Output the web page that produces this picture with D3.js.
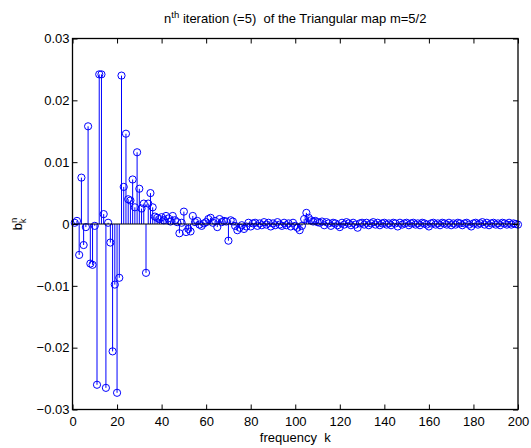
<!DOCTYPE html>
<html><head><meta charset="utf-8">
<script src="https://cdn.jsdelivr.net/npm/d3@7"></script>
<style>body{margin:0;background:#fff}svg{display:block}text{font-family:"Liberation Sans",Arial,sans-serif}</style>
</head><body><svg id="c" width="531" height="448"></svg>
<script>
// coefficient values b_k^n for k = 1..200
const values = [
 0.0002, 0.0005,-0.0050, 0.0075,-0.0034,-0.0005, 0.0158,-0.0064,-0.0066,-0.0003,
-0.0260, 0.0242, 0.0242, 0.0016,-0.0265, 0.0002,-0.0030,-0.0206,-0.0098,-0.0273,
-0.0087, 0.0240, 0.0060, 0.0146, 0.0040, 0.0038, 0.0072, 0.0027, 0.0116, 0.0057,
 0.0025, 0.0033,-0.0079, 0.0033, 0.0050, 0.0027, 0.0012, 0.0010, 0.0008, 0.0011,
 0.0006, 0.0013, 0.0009, 0.0004, 0.0013, 0.0006, 0.0003,-0.0015, 0.0002, 0.0020,
-0.0013,-0.0008,-0.0012, 0.0013, 0.0003, 0.0005,-0.0001,-0.0003, 0.0001, 0.0003,
 0.0008, 0.0010, 0.0002, 0.0005,-0.0005, 0.0008, 0.0003, 0.0005, 0.0004,-0.0027,
 0.0006, 0.0004,-0.0003,-0.0010,-0.0006,-0.0002,-0.0008,-0.0004, 0.0002,-0.0004,
 0.0001, 0.0002,-0.0003, 0.0001,-0.0002, 0.0003,-0.0001, 0.0002,-0.0004, 0.0001,
-0.0002, 0.0003,-0.0001,-0.0003, 0.0002,-0.0002, 0.0001,-0.0004, 0.0002,-0.0003,
-0.0006,-0.0010,-0.0003, 0.0008, 0.0018, 0.0010, 0.0006, 0.0004, 0.0005, 0.0003,
 0.0002, 0.0004,-0.0002, 0.0003, 0.0001,-0.0003, 0.0002, 0.0001,-0.0002,-0.0005,
 0.0002,-0.0001, 0.0003, 0.0001,-0.0002, 0.0002,-0.0001,-0.0006, 0.0001, 0.0002,
-0.0001, 0.0002,-0.0002, 0.0001, 0.0003,-0.0001, 0.0002,-0.0002, 0.0001, 0.0002,
-0.0001, 0.0001,-0.0002, 0.0002, 0.0001,-0.0004, 0.0002,-0.0001, 0.0001, 0.0002,
-0.0002, 0.0001, 0.0002,-0.0001, 0.0001,-0.0002, 0.0002, 0.0001,-0.0001,-0.0004,
 0.0001, 0.0002,-0.0001, 0.0001,-0.0002, 0.0002, 0.0001,-0.0001, 0.0002,-0.0002,
 0.0001,-0.0001, 0.0002, 0.0001,-0.0002, 0.0001, 0.0002,-0.0001,-0.0004, 0.0001,
 0.0002,-0.0001, 0.0001, 0.0003,-0.0001, 0.0002,-0.0002, 0.0001, 0.0002,-0.0001,
 0.0001,-0.0002, 0.0002, 0.0001,-0.0001, 0.0002,-0.0001, 0.0001, 0.0000,-0.0001
];
const xTicks = [0,20,40,60,80,100,120,140,160,180,200];
const yTicks = [-0.03,-0.02,-0.01,0,0.01,0.02,0.03];
const yTickLabels = ["\u22120.03","\u22120.02","\u22120.01","0","0.01","0.02","0.03"];

const svg = d3.select("#c");
const L=72.5, R=518, T=38.5, B=409.5;
const FS=13;
const x = d3.scaleLinear().domain([0,200]).range([L,R]);
const y = d3.scaleLinear().domain([-0.03,0.03]).range([B,T]);
const data = values.map((v,i)=>({k:i+1,v}));

const g = svg.append("g");
// stems
g.selectAll("line.stem").data(data).enter().append("line")
 .attr("x1",d=>x(d.k)).attr("x2",d=>x(d.k))
 .attr("y1",y(0)).attr("y2",d=>y(d.v))
 .attr("stroke","#0000ff").attr("stroke-width",1);
// markers
g.selectAll("circle").data(data).enter().append("circle")
 .attr("cx",d=>x(d.k)).attr("cy",d=>y(d.v)).attr("r",3.6)
 .attr("fill","none").attr("stroke","#0000ff").attr("stroke-width",1);
// baseline
g.append("line").attr("x1",L).attr("x2",R).attr("y1",y(0)).attr("y2",y(0))
 .attr("stroke","#000").attr("stroke-width",1);

// axes
const tl=5;
const fmtX = d3.format("d");
const xb = svg.append("g").attr("transform",`translate(0,${B})`)
 .call(d3.axisBottom(x).tickValues(xTicks).tickFormat(fmtX).tickSizeInner(-tl).tickSizeOuter(0).tickPadding(7));
const xt = svg.append("g").attr("transform",`translate(0,${T})`)
 .call(d3.axisTop(x).tickValues(xTicks).tickFormat("").tickSizeInner(-tl).tickSizeOuter(0));
const yl = svg.append("g").attr("transform",`translate(${L},0)`)
 .call(d3.axisLeft(y).tickValues(yTicks).tickFormat((d,i)=>yTickLabels[i]).tickSizeInner(-tl).tickSizeOuter(0).tickPadding(3));
const yr = svg.append("g").attr("transform",`translate(${R},0)`)
 .call(d3.axisRight(y).tickValues(yTicks).tickFormat("").tickSizeInner(-tl).tickSizeOuter(0));
[xb,xt,yl,yr].forEach(a=>{
  a.select(".domain").remove();
  a.selectAll("line").attr("stroke","#000");
  a.selectAll("text").attr("font-size",FS).attr("fill","#000").style("font-family","'Liberation Sans',Arial,sans-serif");
});
svg.append("rect").attr("x",L).attr("y",T).attr("width",R-L).attr("height",B-T)
 .attr("fill","none").attr("stroke","#000").attr("stroke-width",1.3);

// title
const cx=(L+R)/2;
const t = svg.append("text").attr("x",cx).attr("y",22.5).attr("text-anchor","middle").attr("font-size",FS).attr("fill","#000");
t.append("tspan").text("n");
t.append("tspan").attr("dy",-5).attr("font-size",9.5).text("th");
t.append("tspan").attr("dy",5).text("\u00a0iteration (=5)\u00a0\u00a0of the Triangular map m=5/2");
// x label
svg.append("text").attr("x",cx).attr("y",441.5).attr("text-anchor","middle").attr("font-size",FS).attr("fill","#000").text("frequency\u00a0\u00a0k");
// y label
const yt = svg.append("text").attr("transform","translate(22,224) rotate(-90)").attr("text-anchor","middle").attr("font-size",FS).attr("fill","#000");
yt.append("tspan").text("b");
yt.append("tspan").attr("dy",-5).attr("font-size",9.5).text("n");
yt.append("tspan").attr("dx",-5.5).attr("dy",8.5).attr("font-size",9.5).text("k");
</script></body></html>
